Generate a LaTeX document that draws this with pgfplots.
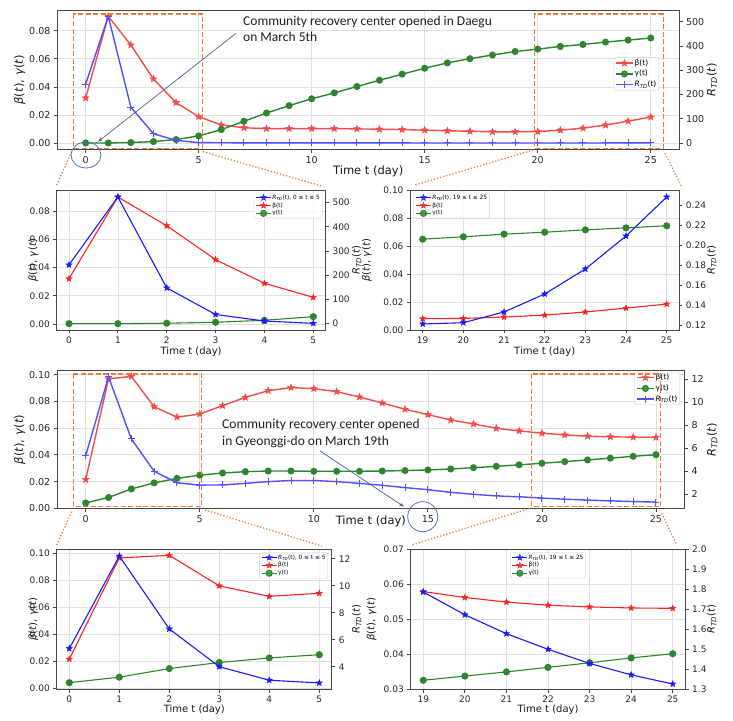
\documentclass[border=0pt]{standalone}
\usepackage{fontspec}
\setmainfont{DejaVu Sans}
\newfontfamily\calfont{Carlito}
\usepackage{pgfplots}
\pgfplotsset{compat=1.18}
\usepackage{pgfplotstable}
\usetikzlibrary{arrows.meta}

\definecolor{mredL}{RGB}{245,75,75}
\definecolor{mblueL}{RGB}{80,80,255}
\definecolor{mgreen}{RGB}{44,135,44}
\definecolor{sred}{RGB}{250,35,35}
\definecolor{sblue}{RGB}{25,25,250}
\definecolor{zorange}{RGB}{237,125,49}
\definecolor{cblue}{RGB}{80,115,190}
\definecolor{aline}{RGB}{70,100,150}

\newcommand{\RTD}{\textit{R}\textsubscript{\textit{TD}}}

\pgfdeclareplotmark{fstar}{%
 \pgfpathmoveto{\pgfpointpolar{90}{\pgfplotmarksize}}%
 \pgfpathlineto{\pgfpointpolar{126}{0.42\pgfplotmarksize}}%
 \pgfpathlineto{\pgfpointpolar{162}{\pgfplotmarksize}}%
 \pgfpathlineto{\pgfpointpolar{198}{0.42\pgfplotmarksize}}%
 \pgfpathlineto{\pgfpointpolar{234}{\pgfplotmarksize}}%
 \pgfpathlineto{\pgfpointpolar{270}{0.42\pgfplotmarksize}}%
 \pgfpathlineto{\pgfpointpolar{306}{\pgfplotmarksize}}%
 \pgfpathlineto{\pgfpointpolar{342}{0.42\pgfplotmarksize}}%
 \pgfpathlineto{\pgfpointpolar{18}{\pgfplotmarksize}}%
 \pgfpathlineto{\pgfpointpolar{54}{0.42\pgfplotmarksize}}%
 \pgfpathclose
 \pgfusepathqfillstroke}

\pgfplotstableread{
t beta gamma R
0 0.0322 0.0002 243
1 0.0902 0.0002 523
2 0.0698 0.0005 148
3 0.0457 0.0012 38
4 0.0289 0.0026 11
5 0.0189 0.0052 1.5
6 0.0130 0.0097 1.0
7 0.0110 0.0156 0.6
8 0.0104 0.0215 0.45
9 0.0104 0.0267 0.36
10 0.0104 0.0316 0.30
11 0.0104 0.0358 0.26
12 0.0102 0.0403 0.23
13 0.0100 0.0448 0.21
14 0.0097 0.0491 0.19
15 0.0093 0.0533 0.17
16 0.0089 0.0571 0.155
17 0.0085 0.0601 0.14
18 0.0081 0.0627 0.13
19 0.0081 0.0652 0.121
20 0.0083 0.0669 0.1223
21 0.0093 0.0688 0.133
22 0.0107 0.0702 0.151
23 0.0129 0.0719 0.176
24 0.0157 0.0733 0.209
25 0.0186 0.0748 0.248
}\daegu

\pgfplotstableread{
t beta gamma R
0 0.0215 0.0040 5.35
1 0.0968 0.0081 12.2
2 0.0987 0.0145 6.8
3 0.0760 0.0190 4.0
4 0.0682 0.0224 3.0
5 0.0705 0.0248 2.8
6 0.0768 0.0264 2.81
7 0.0830 0.0274 2.95
8 0.0880 0.0279 3.1
9 0.0903 0.0279 3.2
10 0.0895 0.0277 3.2
11 0.0873 0.0277 3.1
12 0.0833 0.0277 2.95
13 0.0788 0.0279 2.78
14 0.0741 0.0282 2.58
15 0.0701 0.0287 2.4
16 0.0661 0.0294 2.17
17 0.0631 0.0304 2.0
18 0.0599 0.0314 1.86
19 0.0579 0.0325 1.786
20 0.0562 0.0337 1.672
21 0.0549 0.0349 1.577
22 0.0540 0.0362 1.499
23 0.0535 0.0375 1.428
24 0.0532 0.0389 1.371
25 0.0531 0.0401 1.325
}\gyeonggi

\pgfplotsset{
 common/.style={scale only axis, anchor=south west,
   axis line style={draw=black!72, line width=0.8pt},
   tick style={draw=black!72, line width=0.8pt},
   tick align=outside, major tick length=3.5pt,
   scaled x ticks=false, scaled y ticks=false,
   /pgf/number format/assume math mode=true,
   tick label style={text=black!85}, label style={text=black!90}},
 prec2/.style={yticklabel style={/pgf/number format/fixed, /pgf/number format/fixed zerofill, /pgf/number format/precision=2}},
 prec1/.style={yticklabel style={/pgf/number format/fixed, /pgf/number format/fixed zerofill, /pgf/number format/precision=1}},
 lefts/.style={common, xtick pos=left, ytick pos=left, xmajorgrids, ymajorgrids,
   grid style={draw=black!12, line width=0.7pt}, prec2},
 rights/.style={common, axis y line*=right, axis x line=none, y axis line style={-}},
 ylab/.style={ylabel style={at={(axis description cs:#1,0.5)}, anchor=center}},
 xlab/.style={xlabel style={at={(axis description cs:0.5,#1)}, anchor=center}},
 bigf/.style={tick label style={font=\fontsize{9.5}{11}\selectfont}, label style={font=\fontsize{11.5}{13}\selectfont}},
 smallf/.style={tick label style={font=\fontsize{9}{10.5}\selectfont}, label style={font=\fontsize{10}{12}\selectfont}},
 mainleg/.style={legend cell align=left,
   legend style={font=\fontsize{7.5}{8.5}\selectfont, draw=black!20, rounded corners=1.5pt, fill=white, fill opacity=0.8, text opacity=1, draw opacity=1, inner xsep=1.5pt, inner ysep=1pt, row sep=1.5pt, nodes={inner sep=1pt}},
   legend image code/.code={\draw[mark repeat=2, mark phase=2] plot coordinates {(0pt,0pt) (8.5pt,0pt) (17pt,0pt)};}},
 smallleg/.style={legend cell align=left,
   legend style={font=\fontsize{5.8}{6.5}\selectfont, draw=black!20, rounded corners=1.2pt, fill=white, fill opacity=0.8, text opacity=1, draw opacity=1, inner xsep=1.5pt, inner ysep=1pt, row sep=0.3pt, nodes={inner sep=0.8pt}},
   legend image code/.code={\draw[mark repeat=2, mark phase=2] plot coordinates {(0pt,0pt) (7.5pt,0pt) (15pt,0pt)};}},
 bmain/.style={color=mredL, line width=1.4pt, mark=fstar, mark size=3.6pt, mark options={line width=0.5pt}},
 gmain/.style={color=mgreen, line width=1.4pt, mark=*, mark size=2.8pt},
 rmain/.style={color=mblueL, line width=1.4pt, mark=+, mark size=3.5pt, mark options={line width=1pt}},
 bsm/.style={color=sred, line width=1.1pt, mark=fstar, mark size=3.3pt, mark options={line width=0.4pt}},
 gsm/.style={color=mgreen, line width=1.1pt, mark=*, mark size=3pt},
 rsm/.style={color=sblue, line width=1.1pt, mark=fstar, mark size=3.3pt, mark options={line width=0.4pt}},
}

\begin{document}
\begin{tikzpicture}[x=1pt,y=1pt]
\useasboundingbox (0,0) rectangle (733,720);

% ---------------- Panel 1 (Daegu, full) ----------------
\begin{axis}[lefts, bigf, at={(57.4pt,570.7pt)}, width=621.6pt, height=139.3pt,
  xmin=-1.25, xmax=26.25, ymin=-0.0043, ymax=0.0947,
  xtick={0,5,10,15,20,25}, ytick={0,0.02,0.04,0.06,0.08},
  ylab=-0.0608, xlab=-0.156,
  xlabel={Time t (day)}, ylabel={\textit{β}(\textit{t}), \textit{γ}(\textit{t})}]
 \addplot[bmain] table[x=t,y=beta]{\daegu};
 \addplot[gmain] table[x=t,y=gamma]{\daegu};
\end{axis}
\begin{axis}[rights, bigf, mainleg, at={(57.4pt,570.7pt)}, width=621.6pt, height=139.3pt,
  xmin=-1.25, xmax=26.25, ymin=-26, ymax=549, ytick={0,100,200,300,400,500},
  ylab=1.053, ylabel={\RTD(\textit{t})},
  legend style={at={(0.968,0.66)}, anchor=north east}]
 \addlegendimage{bmain}\addlegendentry{β(t)}
 \addlegendimage{gmain}\addlegendentry{γ(t)}
 \addplot[rmain] table[x=t,y=R]{\daegu}; \addlegendentry{\RTD(t)}
\end{axis}

% ---------------- Panel 2 (Daegu 0-5) ----------------
\begin{axis}[lefts, smallf, at={(56.8pt,390pt)}, width=268.7pt, height=139.3pt,
  xmin=-0.25, xmax=5.25, ymin=-0.0043, ymax=0.0947,
  xtick={0,1,2,3,4,5}, ytick={0,0.02,0.04,0.06,0.08},
  restrict x to domain=0:5, ylab=-0.0875, xlab=-0.156,
  xlabel={Time t (day)}, ylabel={\textit{β}(\textit{t}), \textit{γ}(\textit{t})}]
 \addplot[bsm] table[x=t,y=beta]{\daegu};
 \addplot[gsm] table[x=t,y=gamma]{\daegu};
\end{axis}
\begin{axis}[rights, smallf, smallleg, at={(56.8pt,390pt)}, width=268.7pt, height=139.3pt,
  xmin=-0.25, xmax=5.25, ymin=-26, ymax=549, ytick={0,100,200,300,400,500},
  restrict x to domain=0:5,
  ylab=1.116, ylabel={\RTD(\textit{t})},
  legend style={at={(0.988,0.985)}, anchor=north east}]
 \addplot[rsm] table[x=t,y=R]{\daegu}; \addlegendentry{\RTD(t), 0 ≤ t ≤ 5}
 \addlegendimage{bsm}\addlegendentry{β(t)}
 \addlegendimage{gsm}\addlegendentry{γ(t)}
\end{axis}

% ---------------- Panel 3 (Daegu 19-25) ----------------
\begin{axis}[lefts, smallf, at={(410.5pt,390pt)}, width=268.4pt, height=139.3pt,
  xmin=18.7, xmax=25.3, ymin=0, ymax=0.1,
  xtick={19,20,21,22,23,24,25}, ytick={0,0.02,0.04,0.06,0.08,0.1},
  restrict x to domain=19:25, ylab=-0.163, xlab=-0.156,
  xlabel={Time t (day)}, ylabel={\textit{β}(\textit{t}), \textit{γ}(\textit{t})}]
 \addplot[bsm] table[x=t,y=beta]{\daegu};
 \addplot[gsm] table[x=t,y=gamma]{\daegu};
\end{axis}
\begin{axis}[rights, smallf, smallleg, prec2, at={(410.5pt,390pt)}, width=268.4pt, height=139.3pt,
  xmin=18.7, xmax=25.3, ymin=0.115, ymax=0.2543,
  ytick={0.12,0.14,0.16,0.18,0.20,0.22,0.24},
  restrict x to domain=19:25,
  ylab=1.122, ylabel={\RTD(\textit{t})},
  legend style={at={(0.012,0.985)}, anchor=north west}]
 \addplot[rsm] table[x=t,y=R]{\daegu}; \addlegendentry{\RTD(t), 19 ≤ t ≤ 25}
 \addlegendimage{bsm}\addlegendentry{β(t)}
 \addlegendimage{gsm}\addlegendentry{γ(t)}
\end{axis}

% ---------------- Panel 4 (Gyeonggi, full) ----------------
\begin{axis}[lefts, bigf, at={(57.2pt,211.7pt)}, width=627.3pt, height=137.8pt,
  xmin=-1.25, xmax=26.25, ymin=0, ymax=0.1031,
  xtick={0,5,10,15,20,25}, ytick={0,0.02,0.04,0.06,0.08,0.1},
  ylab=-0.060, xlab=-0.097,
  xlabel={Time t (day)}, ylabel={\textit{β}(\textit{t}), \textit{γ}(\textit{t})}]
 \addplot[bmain] table[x=t,y=beta]{\gyeonggi};
 \addplot[gmain] table[x=t,y=gamma]{\gyeonggi};
\end{axis}
\begin{axis}[rights, bigf, mainleg, at={(57.2pt,211.7pt)}, width=627.3pt, height=137.8pt,
  xmin=-1.25, xmax=26.25, ymin=0.786, ymax=12.74, ytick={2,4,6,8,10,12},
  ylab=1.044, ylabel={\RTD(\textit{t})},
  legend style={at={(0.993,0.99)}, anchor=north east}]
 \addlegendimage{bmain}\addlegendentry{β(t)}
 \addlegendimage{gmain}\addlegendentry{γ(t)}
 \addplot[rmain] table[x=t,y=R]{\gyeonggi}; \addlegendentry{\RTD(t)}
\end{axis}

% ---------------- Panel 5 (Gyeonggi 0-5) ----------------
\begin{axis}[lefts, smallf, at={(56.8pt,31pt)}, width=275pt, height=139.7pt,
  xmin=-0.25, xmax=5.25, ymin=-0.0007, ymax=0.1032,
  xtick={0,1,2,3,4,5}, ytick={0,0.02,0.04,0.06,0.08,0.1},
  restrict x to domain=0:5, ylab=-0.0855, xlab=-0.15,
  xlabel={Time t (day)}, ylabel={\textit{β}(\textit{t}), \textit{γ}(\textit{t})}]
 \addplot[bsm] table[x=t,y=beta]{\gyeonggi};
 \addplot[gsm] table[x=t,y=gamma]{\gyeonggi};
\end{axis}
\begin{axis}[rights, smallf, smallleg, at={(56.8pt,31pt)}, width=275pt, height=139.7pt,
  xmin=-0.25, xmax=5.25, ymin=2.35, ymax=12.7, ytick={4,6,8,10,12},
  restrict x to domain=0:5,
  ylab=1.0905, ylabel={\RTD(\textit{t})},
  legend style={at={(0.986,0.976)}, anchor=north east}]
 \addplot[rsm] table[x=t,y=R]{\gyeonggi}; \addlegendentry{\RTD(t), 0 ≤ t ≤ 5}
 \addlegendimage{bsm}\addlegendentry{β(t)}
 \addlegendimage{gsm}\addlegendentry{γ(t)}
\end{axis}

% ---------------- Panel 6 (Gyeonggi 19-25) ----------------
\begin{axis}[lefts, smallf, at={(410.8pt,31pt)}, width=274.4pt, height=139.7pt,
  xmin=18.7, xmax=25.3, ymin=0.03, ymax=0.07,
  xtick={19,20,21,22,23,24,25}, ytick={0.03,0.04,0.05,0.06,0.07},
  restrict x to domain=19:25, ylab=-0.1425, xlab=-0.15,
  xlabel={Time t (day)}, ylabel={\textit{β}(\textit{t}), \textit{γ}(\textit{t})}]
 \addplot[bsm] table[x=t,y=beta]{\gyeonggi};
 \addplot[gsm] table[x=t,y=gamma]{\gyeonggi};
\end{axis}
\begin{axis}[rights, smallf, smallleg, prec1, at={(410.8pt,31pt)}, width=274.4pt, height=139.7pt,
  xmin=18.7, xmax=25.3, ymin=1.3, ymax=2.0,
  ytick={1.3,1.4,1.5,1.6,1.7,1.8,1.9,2.0},
  restrict x to domain=19:25,
  ylab=1.0966, ylabel={\RTD(\textit{t})},
  legend style={at={(0.5,0.976)}, anchor=north}]
 \addplot[rsm] table[x=t,y=R]{\gyeonggi}; \addlegendentry{\RTD(t), 19 ≤ t ≤ 25}
 \addlegendimage{bsm}\addlegendentry{β(t)}
 \addlegendimage{gsm}\addlegendentry{γ(t)}
\end{axis}

% ---------------- Annotations ----------------
\tikzset{zr/.style={draw=zorange, line width=1.5pt, dash pattern=on 5pt off 2.5pt},
         zd/.style={draw=zorange, line width=1.3pt, dash pattern=on 1.3pt off 1.9pt},
         cb/.style={draw=cblue, line width=0.8pt},
         al/.style={draw=aline, line width=0.7pt, -{Stealth[length=5pt,width=3.5pt]}},
         an/.style={anchor=base west, inner sep=0pt, text=black!88, font=\calfont\fontsize{13.5}{15}\selectfont}}
\draw[zr] (73.3,706) rectangle (202.7,571.7);
\draw[zr] (534.3,706) rectangle (663.3,571.7);
\draw[zr] (73.3,346) rectangle (201.7,213.3);
\draw[zr] (531.7,346) rectangle (660.7,213.3);

\draw[zd] (71.7,568.3) -- (56.7,535);
\draw[zd] (203,568.3) -- (321.7,534);
\draw[zd] (533.3,570) -- (415,535);
\draw[zd] (665,566.7) -- (681.7,533.3);
\draw[zd] (71.7,208.3) -- (56.7,175);
\draw[zd] (205,210) -- (321.7,174);
\draw[zd] (530,211.7) -- (411.7,175);
\draw[zd] (661.7,206.7) -- (676.7,175);

\draw[cb] (86,565) ellipse [x radius=15pt, y radius=13pt];
\draw[cb] (422.7,203.3) circle [radius=15pt];

\draw[al] (236,686.7) -- (98,578.3);
\draw[al] (320,269) -- (404,213.3);

\node[an] at (243,694) {Community recovery center opened in Daegu};
\node[an] at (243,678.2) {on March 5th};
\node[an] at (222,291.2) {Community recovery center opened};
\node[an] at (222,274.5) {in Gyeonggi-do on March 19th};
\end{tikzpicture}
\end{document}
